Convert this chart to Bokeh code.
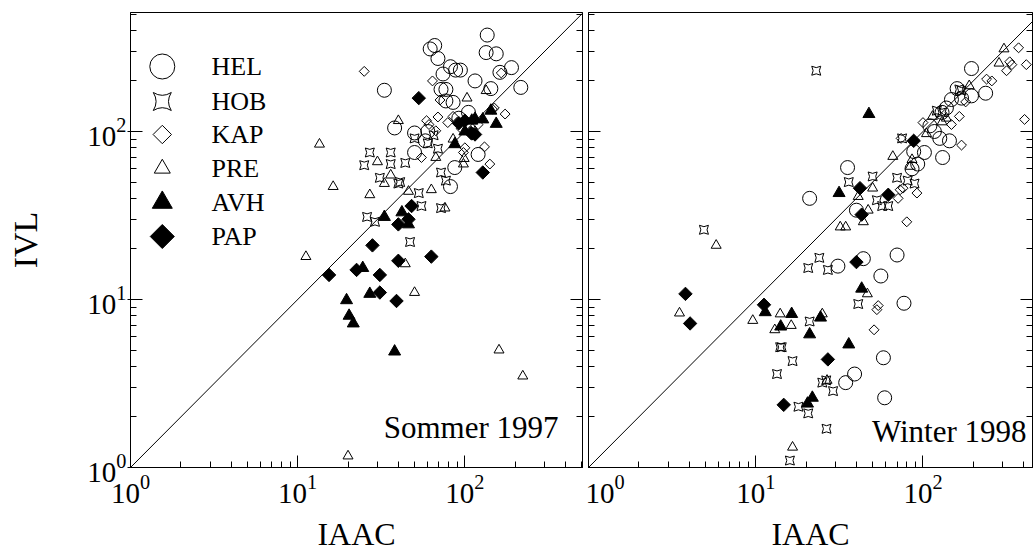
import math
from bokeh.plotting import figure
from bokeh.models import Range1d, LogAxis, FixedTicker, Slope, Label
from bokeh.layouts import row
from bokeh.embed import file_html
from bokeh.resources import INLINE

FONT = "Liberation Serif"

# ---------------- data (IAAC on x, IVL on y) ----------------
SERIES = ["HEL", "HOB", "KAP", "PRE", "AVH", "PAP"]

# Sommer 1997
HEL_S_x = [136, 62, 66, 69, 134, 154, 190, 162, 216, 115, 143, 74, 82, 88, 94, 33, 72, 77, 77, 85, 38, 50, 50, 87, 120, 82, 92, 105, 60, 58]
HEL_S_y = [375, 310, 325, 272, 295, 290, 240, 225, 183, 200, 180, 220, 243, 232, 232, 176, 178, 178, 152, 149, 105, 98, 75, 61, 73, 47, 120, 130, 100, 88]
HOB_S_x = [27, 25, 36, 36, 44, 31, 40, 50, 53, 55, 72, 26, 29, 47, 69, 72, 77, 41, 60, 65]
HOB_S_y = [75, 63, 75, 64, 65, 53, 49, 91, 43, 36, 35, 31, 29, 22, 79, 57, 51, 50, 85, 95]
KAP_S_x = [25, 64, 71, 174, 131, 141, 150, 85, 67, 59, 165, 95, 100, 146, 79, 69, 61, 55, 98, 110, 120]
KAP_S_y = [228, 200, 154, 127, 81, 64, 138, 123, 101, 116, 223, 104, 80, 136, 113, 122, 110, 70, 75, 95, 110]
PRE_S_x = [13.5, 40, 16.3, 27, 30, 36, 33, 46, 63, 76, 103, 134, 11.2, 44, 98, 50, 20, 160, 222, 67, 99, 85, 115]
PRE_S_y = [84, 116, 47, 42, 66, 55, 49, 44, 45, 35, 158, 175, 18, 16.3, 64, 11, 1.17, 5, 3.5, 70, 69, 90, 100]
AVH_S_x = [154, 128, 115, 87, 33, 42, 46, 24.5, 143, 19.6, 27, 20.3, 21.5, 38, 110, 100]
AVH_S_y = [111, 118, 119, 84, 31, 33, 28, 15.4, 133, 9.9, 10.8, 8, 7.2, 4.9, 116, 100]
PAP_S_x = [53, 109, 100, 128, 48, 40, 46, 28, 63, 40, 15.4, 22.5, 31, 31, 39, 115, 92]
PAP_S_y = [158, 98, 116, 57, 36, 28, 30, 21, 18, 17, 14, 15, 14, 11, 9.8, 96, 112]

# Winter 1998
HEL_W_x = [195, 170, 195, 237, 148, 138, 144, 131, 102, 88, 93, 86, 126, 35.4, 21, 40, 70, 44, 31, 56, 77, 58, 39, 34.5, 59, 130, 117, 110, 160]
HEL_W_y = [237, 158, 163, 169, 155, 138, 88, 70, 75, 76, 64, 60, 91, 61, 40, 34, 18.4, 17.5, 15.8, 13.8, 9.5, 4.5, 3.6, 3.2, 2.6, 130, 100, 108, 180]
HOB_W_x = [23, 50, 70, 81, 89, 36, 53, 57, 62, 121, 170, 4.9, 20.6, 24, 27, 41, 21, 14, 14.3, 16.6, 13.4, 26.4, 29, 18, 20.6, 26.5, 16, 75, 130, 25, 165]
HOB_W_y = [230, 54, 53, 51, 49, 50, 39, 36, 36, 133, 175, 26, 15.4, 17.7, 15, 9.4, 7.4, 5.2, 5.2, 4.3, 3.6, 3.3, 2.85, 2.3, 2.1, 1.7, 1.1, 91, 130, 3.2, 178]
KAP_W_x = [373, 415, 340, 316, 258, 240, 165, 405, 170, 148, 100, 92, 73, 80, 71, 76, 74, 54, 53, 51, 330, 180]
KAP_W_y = [315, 250, 250, 230, 200, 205, 123, 118, 83, 110, 113, 43, 45, 29, 40, 46, 91, 9.2, 8.7, 6.6, 260, 150]
PRE_W_x = [305, 285, 189, 138, 114, 105, 86, 66, 50, 41, 44, 32, 34.5, 5.8, 3.5, 9.6, 14, 13, 16.3, 25, 46.5, 26.7, 16.6, 47, 84, 130]
PRE_W_y = [310, 255, 187, 120, 123, 97, 68, 71, 46, 41, 29, 27, 27, 21, 8.3, 7.5, 8.2, 6.6, 7, 8.2, 10.8, 3.3, 1.32, 34, 62, 114]
AVH_W_x = [47.5, 31.5, 43, 11.4, 16.4, 14.1, 21, 24.4, 36, 21.8, 20.4]
AVH_W_y = [127, 43, 11.6, 8.4, 8.2, 6.9, 6.2, 7.8, 5.4, 2.6, 2.4]
PAP_W_x = [88, 42, 62, 43, 40, 3.8, 4.05, 11.2, 27, 14.7]
PAP_W_y = [88, 46, 42, 32, 16.7, 10.8, 7.2, 9.3, 4.4, 2.36]

MAJOR_TICKS = [1, 10, 100]
MINOR_TICKS = [m * d for d in (1, 10, 100) for m in range(2, 10)]

# ---------------- styles ----------------
STYLE = {
    "HEL": dict(marker="circle", size=14, fill_color=None, angle=0.0),
    "HOB": dict(marker="square_pin", size=9, fill_color=None, angle=0.0),
    "KAP": dict(marker="square", size=7, fill_color=None, angle=math.pi / 4),
    "PRE": dict(marker="triangle", size=10, fill_color=None, angle=0.0),
    "AVH": dict(marker="triangle", size=12, fill_color="black", angle=0.0),
    "PAP": dict(marker="square", size=9.5, fill_color="black", angle=math.pi / 4),
}
LEGEND_SIZE = {"HEL": 25, "HOB": 18, "KAP": 13, "PRE": 16, "AVH": 20, "PAP": 17}

H = 555
TOP, BOTTOM = 12, 88
FH = H - TOP - BOTTOM          # 455
Y_END = 10 ** (FH / 168.0)


def base_axis(ax, tick_in=12, minor_in=6):
    ax.ticker = FixedTicker(ticks=MAJOR_TICKS, minor_ticks=MINOR_TICKS)
    ax.major_tick_in = tick_in
    ax.major_tick_out = 0
    ax.minor_tick_in = minor_in
    ax.minor_tick_out = 0
    ax.axis_line_color = "black"
    ax.major_tick_line_color = "black"
    ax.minor_tick_line_color = "black"
    ax.major_label_text_font = FONT
    ax.major_label_text_color = "black"
    ax.axis_label_text_font = FONT
    ax.axis_label_text_font_style = "normal"
    ax.axis_label_text_color = "black"


def hide_labels(ax):
    ax.major_label_overrides = {1: " ", 10: " ", 100: " "}
    ax.major_label_text_font_size = "1px"
    ax.major_label_standoff = 0
    ax.axis_label_standoff = 0


def make_panel(width, x_end, left_border):
    p = figure(width=width, height=H, x_axis_type="log", y_axis_type="log",
               x_range=Range1d(1, x_end), y_range=Range1d(1, Y_END),
               output_backend="svg", toolbar_location=None,
               min_border_left=left_border, min_border_right=0,
               min_border_top=TOP, min_border_bottom=BOTTOM)
    p.grid.visible = False
    p.outline_line_color = "black"
    p.outline_line_width = 1
    p.background_fill_color = "white"
    p.border_fill_color = "white"
    xa = p.xaxis[0]
    base_axis(xa)
    xa.major_label_text_font_size = "29px"
    xa.major_label_standoff = 7
    xa.axis_label = "IAAC"
    xa.axis_label_text_font_size = "32px"
    xa.axis_label_text_line_height = 0.7
    xa.axis_label_standoff = 10
    ra = LogAxis()
    base_axis(ra)
    hide_labels(ra)
    p.add_layout(ra, "right")
    p.add_layout(Slope(gradient=1, y_intercept=0, line_color="black", line_width=1))
    return p


def add_points(p, data):
    for name in SERIES:
        xs, ys = data[name]
        st = STYLE[name]
        p.scatter(xs, ys, marker=st["marker"], size=st["size"], angle=st["angle"],
                  fill_color=st["fill_color"], line_color="black", line_width=1)


# ---------------- left panel ----------------
FW1 = 455
X_END1 = 10 ** (FW1 / 168.3)
p1 = make_panel(130 + FW1, X_END1, 130)
ya = p1.yaxis[0]
base_axis(ya)
ya.major_tick_out = 3
ya.major_label_text_font_size = "29px"
ya.major_label_standoff = 1
ya.axis_label = "IVL"
ya.axis_label_text_font_size = "34px"
ya.axis_label_standoff = 40

add_points(p1, {"HEL": (HEL_S_x, HEL_S_y), "HOB": (HOB_S_x, HOB_S_y), "KAP": (KAP_S_x, KAP_S_y),
                "PRE": (PRE_S_x, PRE_S_y), "AVH": (AVH_S_x, AVH_S_y), "PAP": (PAP_S_x, PAP_S_y)})


# legend (drawn manually: marker + label per series), positions in frame pixels
def frame_to_data(px, py, x_end, fw=FW1):
    return 10 ** (math.log10(x_end) * px / fw), 10 ** (math.log10(Y_END) * (FH - py) / FH)


LEG_ROWS = [66, 101, 134, 168, 202, 236]
for name, ry in zip(SERIES, LEG_ROWS):
    st = STYLE[name]
    lx, ly = frame_to_data(162 - 130, ry - TOP, X_END1)
    p1.scatter([lx], [ly], marker=st["marker"], size=LEGEND_SIZE[name], angle=st["angle"],
               fill_color=st["fill_color"], line_color="black", line_width=1)
    p1.add_layout(Label(x=211 - 130, y=FH - (ry - TOP), x_units="screen", y_units="screen",
                        text=name, text_align="left", text_baseline="middle",
                        text_font=FONT, text_font_size="26px", text_color="black"))

p1.add_layout(Label(x=558 - 130, y=FH - (427 - TOP), x_units="screen", y_units="screen",
                    text="Sommer 1997", text_align="right", text_baseline="alphabetic",
                    text_font=FONT, text_font_size="31px", text_color="black"))

# ---------------- right panel ----------------
FW2 = 1035 - 130 - FW1
X_END2 = 10 ** (FW2 / 169.5)
p2 = make_panel(FW2, X_END2, 0)
ya2 = p2.yaxis[0]
base_axis(ya2)
hide_labels(ya2)
add_points(p2, {"HEL": (HEL_W_x, HEL_W_y), "HOB": (HOB_W_x, HOB_W_y), "KAP": (KAP_W_x, KAP_W_y),
                "PRE": (PRE_W_x, PRE_W_y), "AVH": (AVH_W_x, AVH_W_y), "PAP": (PAP_W_x, PAP_W_y)})
p2.add_layout(Label(x=1023 - 585, y=FH - (431 - TOP), x_units="screen", y_units="screen",
                    text="Winter 1998", text_align="right", text_baseline="alphabetic",
                    text_font=FONT, text_font_size="31px", text_color="black"))

layout = row(p1, p2)
open("out.html", "w").write(file_html(layout, INLINE))
